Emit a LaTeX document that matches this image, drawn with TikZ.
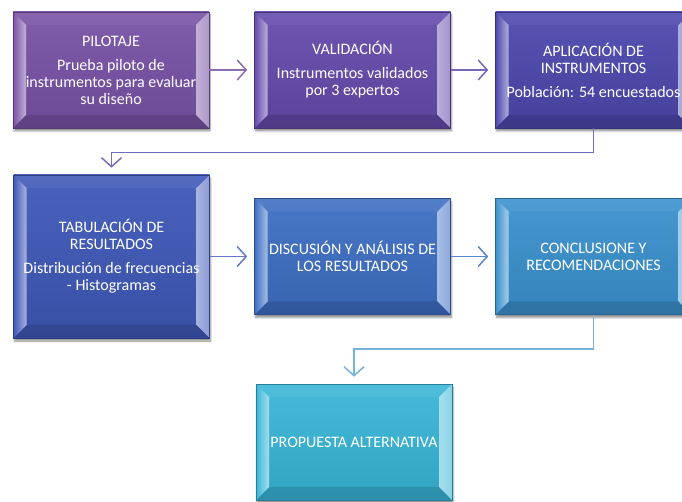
\documentclass[tikz,border=0pt]{standalone}
\usepackage{fontspec}
\setmainfont{Carlito}
\usetikzlibrary{arrows.meta,shadows.blur}
\definecolor{pilotcol}{HTML}{7852A6}
\definecolor{validcol}{HTML}{654AAC}
\definecolor{aplicol}{HTML}{4C48AE}
\definecolor{tabcol}{HTML}{3E58B8}
\definecolor{disccol}{HTML}{3D6FC4}
\definecolor{conccol}{HTML}{3A91CE}
\definecolor{propcol}{HTML}{38B6D8}
\tikzset{
	bisel/.code={
		\path (path picture bounding box.north west) coordinate (nw)
			(path picture bounding box.north east) coordinate (ne)
			(path picture bounding box.south west) coordinate (sw)
			(path picture bounding box.south east) coordinate (se);
		\fill[white, opacity=0.05] (nw) -- (ne) -- ([shift={(-13pt,-13pt)}]ne) -- ([shift={(13pt,-13pt)}]nw) -- cycle;
		\fill[black, opacity=0.12] (sw) -- (se) -- ([shift={(-13pt,13pt)}]se) -- ([shift={(13pt,13pt)}]sw) -- cycle;
		\shade[left color=#1, right color=#1!45!white] (nw) -- ([shift={(13pt,-13pt)}]nw) -- ([shift={(13pt,13pt)}]sw) -- (sw) -- cycle;
		\shade[left color=#1!45!white, right color=#1!60!white] (ne) -- ([shift={(-13pt,-13pt)}]ne) -- ([shift={(-13pt,13pt)}]se) -- (se) -- cycle;
	}
}
\begin{document}
\begin{tikzpicture}[x=1pt, y=-1pt,
	etapa/.style={rectangle, minimum width=196pt, minimum height=116pt, inner sep=2pt,
		align=center, text=white, font=\fontsize{16}{17}\selectfont,
		draw=#1!70!black, line width=0.6pt, top color=#1!94!white, bottom color=#1!90!black,
		blur shadow={shadow xshift=1pt, shadow yshift=-3pt, shadow blur steps=6, shadow opacity=45},
		path picture={\tikzset{bisel=#1}}},
	flecha/.style={draw=#1, line width=1.5pt, -{Straight Barb[length=9pt,width=20pt]}, shorten >=7pt}]
	\useasboundingbox (0,0) rectangle (682,502);
	\clip (0,0) rectangle (682,502);
	\node[etapa=pilotcol] (pilotaje) at (111,70) {PILOTAJE\\[7pt]Prueba piloto de\\instrumentos para evaluar\\su diseño};
	\node[etapa=validcol] (validacion) at (352.5,70) {VALIDACIÓN\\[7pt]Instrumentos validados\\por 3 expertos};
	\node[etapa=aplicol] (aplicacion) at (593.5,70) {APLICACIÓN DE\\INSTRUMENTOS\\[7pt]Población: 54 encuestados};
	\node[etapa=tabcol, minimum height=163pt] (tabulacion) at (111.5,256.5) {TABULACIÓN DE\\RESULTADOS\\[7pt]Distribución de frecuencias\\- Histogramas};
	\node[etapa=disccol] (discusion) at (352.5,256.5) {DISCUSIÓN Y ANÁLISIS DE\\LOS RESULTADOS};
	\node[etapa=conccol] (conclusion) at (593.5,256.5) {CONCLUSIONE Y\\RECOMENDACIONES};
	\node[etapa=propcol] (propuesta) at (354,442) {PROPUESTA ALTERNATIVA};
	\draw[flecha=pilotcol!85!white] (pilotaje.east) -- (validacion.west);
	\draw[flecha=validcol!85!white] (validacion.east) -- (aplicacion.west);
	\draw[flecha=aplicol!80!white] (aplicacion.south) -- ++(0,24) -| (tabulacion.north);
	\draw[flecha=tabcol!80!white] (tabulacion.east) -- (discusion.west);
	\draw[flecha=disccol!85!white] (discusion.east) -- (conclusion.west);
	\draw[flecha=conccol!70!white] (conclusion.south) -- ++(0,34) -| (propuesta.north);
\end{tikzpicture}
\end{document}
